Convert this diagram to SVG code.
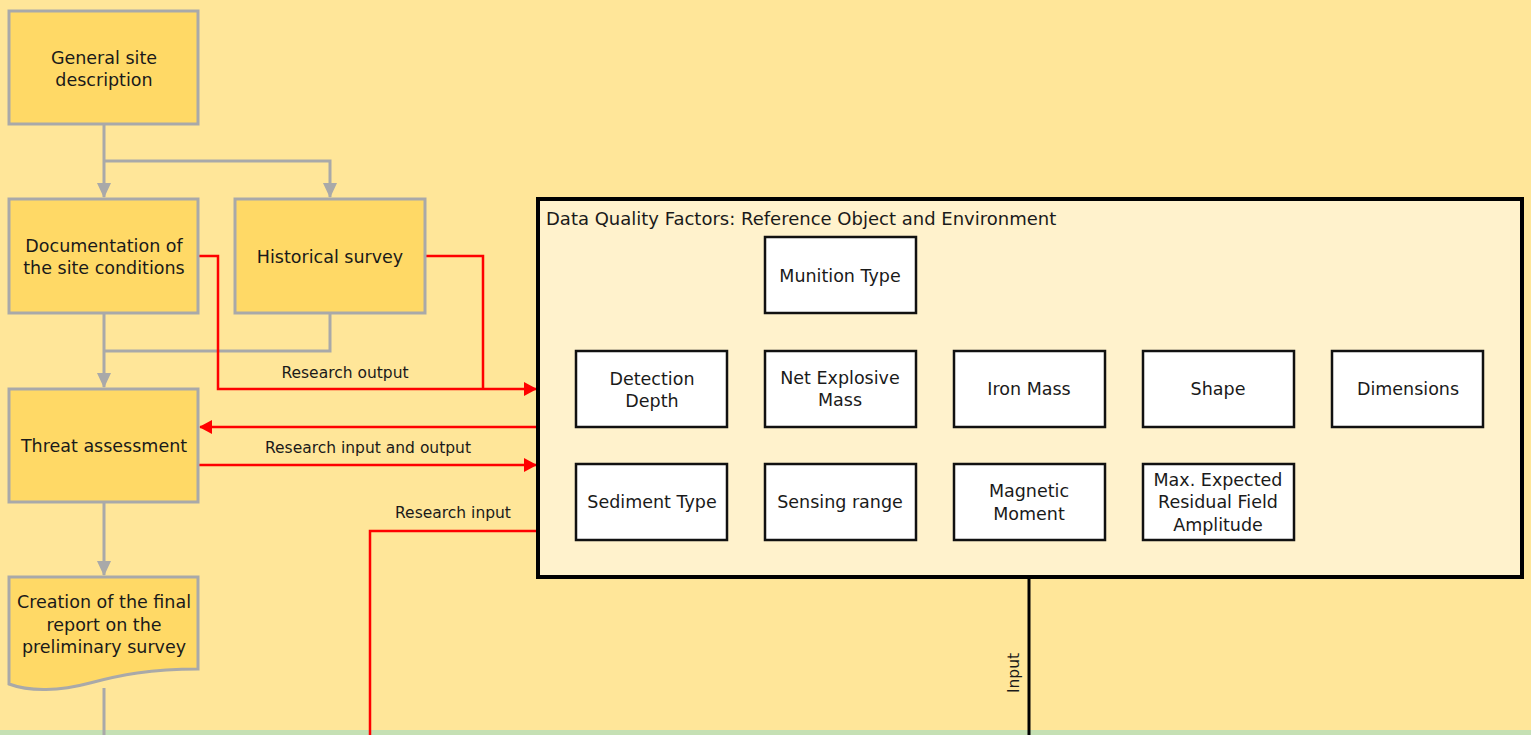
<svg xmlns="http://www.w3.org/2000/svg" width="1531" height="735" viewBox="0 0 1531 735">
<defs>
<style>
.t{font-family:"DejaVu Sans","Liberation Sans",sans-serif;font-size:17.5px;fill:#1a1a1a;text-anchor:middle}
.lbl{font-family:"DejaVu Sans","Liberation Sans",sans-serif;font-size:15.5px;fill:#1a1a1a;text-anchor:middle}
.ybox{fill:#FFD966;stroke:#A9A9A9;stroke-width:3}
.wbox{fill:#FFFFFF;stroke:#111;stroke-width:2.5}
.g{fill:none;stroke:#A9A9A9;stroke-width:3}
.r{fill:none;stroke:#FF0000;stroke-width:2.5}
.k{fill:none;stroke:#000;stroke-width:3}
</style>
<marker id="ag" markerWidth="16" markerHeight="16" refX="14" refY="8" orient="auto" markerUnits="userSpaceOnUse"><path d="M0,1 L15,8 L0,15 Z" fill="#A9A9A9"/></marker>
<marker id="ar" markerWidth="14" markerHeight="14" refX="12" refY="7" orient="auto" markerUnits="userSpaceOnUse"><path d="M0,0 L13,7 L0,14 Z" fill="#FF0000"/></marker>
<marker id="ak" markerWidth="14" markerHeight="14" refX="12" refY="7" orient="auto" markerUnits="userSpaceOnUse"><path d="M0,0 L13,7 L0,14 Z" fill="#000"/></marker>
</defs>
<rect x="0" y="0" width="1531" height="735" fill="#FFE699"/>
<rect x="0" y="730" width="1531" height="5" fill="#C5E0B4"/>

<g id="connectors">
<path class="g" d="M104,124 V197" marker-end="url(#ag)"/>
<path class="g" d="M104,161 H330 V197" marker-end="url(#ag)"/>
<path class="g" d="M104,313 V387" marker-end="url(#ag)"/>
<path class="g" d="M330,313 V351 H104"/>
<path class="g" d="M104,502 V575" marker-end="url(#ag)"/>
<path class="g" d="M104,688 V735"/>
<path class="r" d="M198,256 H218 V389 H536" marker-end="url(#ar)"/>
<path class="r" d="M425,256 H483 V389"/>
<path class="r" d="M538,427 H200" marker-end="url(#ar)"/>
<path class="r" d="M198,465 H536" marker-end="url(#ar)"/>
<path class="r" d="M538,531 H370 V735"/>
<path class="k" d="M840,313 V349" marker-end="url(#ak)"/>
<path class="k" d="M840,332 H1408 V349" marker-end="url(#ak)"/>
<path class="k" d="M1029,332 V349" marker-end="url(#ak)"/>
<path class="k" d="M1218,332 V349" marker-end="url(#ak)"/>
<path class="k" d="M1029,427 V462" marker-end="url(#ak)"/>
<path class="k" d="M1218,427 V462" marker-end="url(#ak)"/>
<path class="k" d="M1408,427 V445 H840 V462" marker-end="url(#ak)"/>
<path class="k" d="M1029,577 V735"/>
<text class="lbl" x="345" y="378">Research output</text>
<text class="lbl" x="368" y="453">Research input and output</text>
<text class="lbl" x="453" y="518">Research input</text>
<text class="lbl" transform="translate(1019,673) rotate(-90)">Input</text>
</g>

<g id="general-site">
<rect class="ybox" x="9" y="11" width="189" height="113"/>
<text class="t" x="104" y="64">General site</text>
<text class="t" x="104" y="86">description</text>
</g>
<g id="documentation">
<rect class="ybox" x="9" y="199" width="189" height="114"/>
<text class="t" x="104" y="252">Documentation of</text>
<text class="t" x="104" y="274">the site conditions</text>
</g>
<g id="historical">
<rect class="ybox" x="235" y="199" width="190" height="114"/>
<text class="t" x="330" y="263">Historical survey</text>
</g>
<g id="threat">
<rect class="ybox" x="9" y="389" width="189" height="113"/>
<text class="t" x="104" y="452">Threat assessment</text>
</g>
<g id="final-report">
<path class="ybox" d="M9,577 H198 V669 C150,669 120,675 90,683 C60,691 30,692 9,684 Z"/>
<text class="t" x="104" y="608">Creation of the final</text>
<text class="t" x="104" y="631">report on the</text>
<text class="t" x="104" y="653">preliminary survey</text>
</g>

<g id="dqf-container">
<rect x="538" y="199" width="984" height="378" fill="#FFF2CC" stroke="#000" stroke-width="4"/>
<text class="t" x="546" y="225" style="text-anchor:start;font-size:18px">Data Quality Factors: Reference Object and Environment</text>
</g>
<g id="munition-type"><rect class="wbox" x="765" y="237" width="151" height="76"/><text class="t" x="840" y="282">Munition Type</text></g>
<g id="detection-depth"><rect class="wbox" x="576" y="351" width="151" height="76"/><text class="t" x="652" y="385">Detection</text><text class="t" x="652" y="407">Depth</text></g>
<g id="net-explosive-mass"><rect class="wbox" x="765" y="351" width="151" height="76"/><text class="t" x="840" y="384">Net Explosive</text><text class="t" x="840" y="406">Mass</text></g>
<g id="iron-mass"><rect class="wbox" x="954" y="351" width="151" height="76"/><text class="t" x="1029" y="395">Iron Mass</text></g>
<g id="shape"><rect class="wbox" x="1143" y="351" width="151" height="76"/><text class="t" x="1218" y="395">Shape</text></g>
<g id="dimensions"><rect class="wbox" x="1332" y="351" width="151" height="76"/><text class="t" x="1408" y="395">Dimensions</text></g>
<g id="sediment-type"><rect class="wbox" x="576" y="464" width="151" height="76"/><text class="t" x="652" y="508">Sediment Type</text></g>
<g id="sensing-range"><rect class="wbox" x="765" y="464" width="151" height="76"/><text class="t" x="840" y="508">Sensing range</text></g>
<g id="magnetic-moment"><rect class="wbox" x="954" y="464" width="151" height="76"/><text class="t" x="1029" y="497">Magnetic</text><text class="t" x="1029" y="520">Moment</text></g>
<g id="max-expected"><rect class="wbox" x="1143" y="464" width="151" height="76"/><text class="t" x="1218" y="486">Max. Expected</text><text class="t" x="1218" y="508">Residual Field</text><text class="t" x="1218" y="531">Amplitude</text></g>
</svg>
